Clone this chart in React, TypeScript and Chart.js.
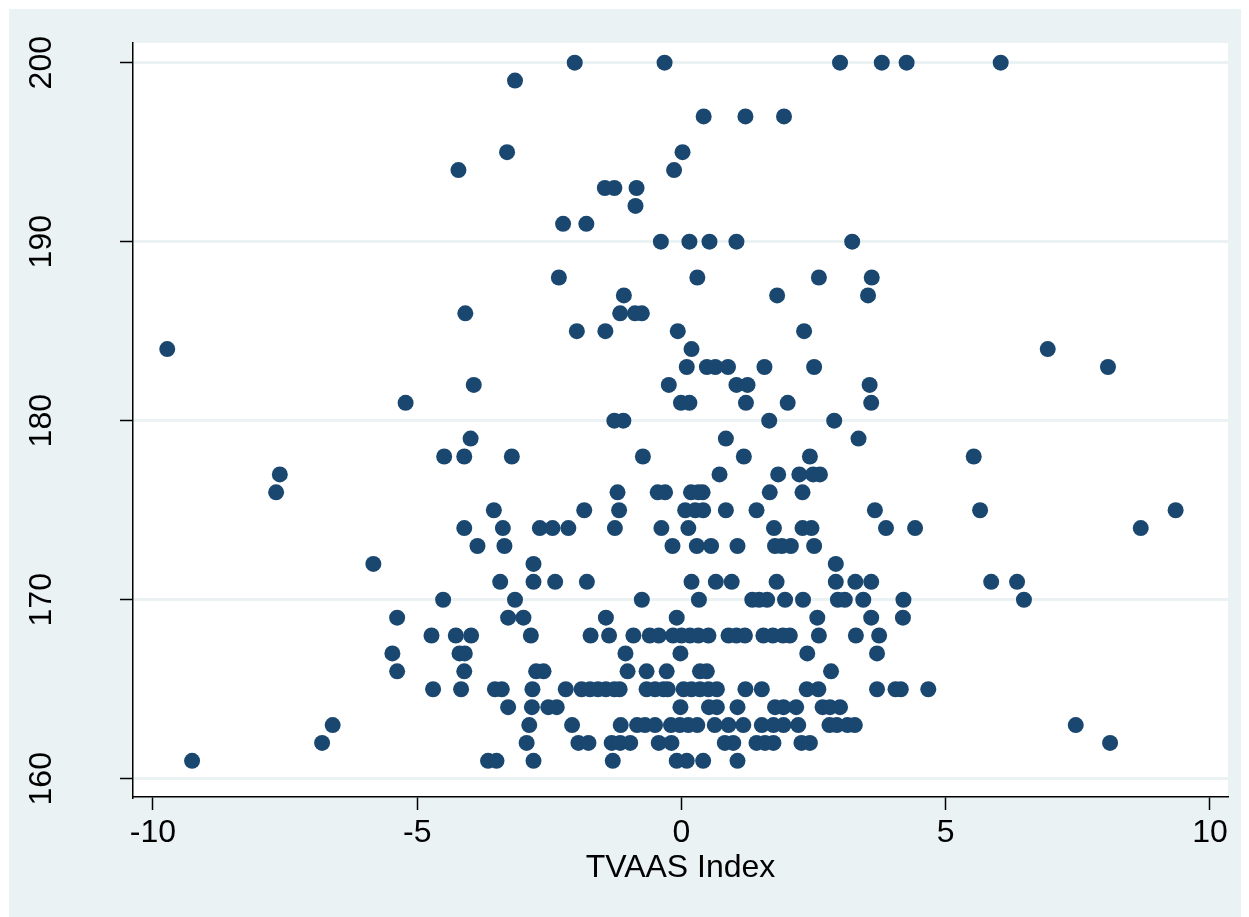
import React, { useEffect, useRef } from "react";
import { Chart, registerables } from "chart.js";

Chart.register(...registerables);

// ---- data: TVAAS index (x) grouped by score (y) ----
const tvaas200 = [-2.02, -0.32, 3.0, 3.79, 4.26, 6.04];
const tvaas199 = [-3.15];
const tvaas197 = [0.42, 1.21, 1.94];
const tvaas195 = [-3.3, 0.02];
const tvaas194 = [-4.22, -0.14];
const tvaas193 = [-1.45, -1.27, -0.85];
const tvaas192 = [-0.87];
const tvaas191 = [-2.24, -1.8];
const tvaas190 = [-0.39, 0.15, 0.53, 1.04, 3.23];
const tvaas188 = [-2.32, 0.3, 2.6, 3.6];
const tvaas187 = [-1.09, 1.81, 3.53];
const tvaas186 = [-4.09, -1.16, -0.88, -0.75];
const tvaas185 = [-1.98, -1.44, -0.07, 2.32];
const tvaas184 = [-9.73, 0.19, 6.93];
const tvaas183 = [0.1, 0.48, 0.64, 0.88, 1.57, 2.51, 8.07];
const tvaas182 = [-3.93, -0.24, 1.04, 1.25, 3.56];
const tvaas181 = [-5.22, -0.01, 0.15, 1.22, 2.01, 3.59];
const tvaas180 = [-1.27, -1.1, 1.66, 2.89];
const tvaas179 = [-3.99, 0.84, 3.35];
const tvaas178 = [-4.49, -4.11, -3.21, -0.73, 1.18, 2.43, 5.53];
const tvaas177 = [-7.6, 0.72, 1.83, 2.23, 2.49, 2.62];
const tvaas176 = [-7.67, -1.21, -0.45, -0.31, 0.18, 0.32, 0.4, 1.67, 2.29];
const tvaas175 = [-3.55, -1.84, -1.18, 0.07, 0.26, 0.41, 0.84, 1.42, 3.66, 5.65, 9.35];
const tvaas174 = [-4.11, -3.38, -2.68, -2.44, -2.14, -1.26, -0.38, 0.13, 1.75, 2.29, 2.46, 3.87, 4.42, 8.69];
const tvaas173 = [-3.86, -3.35, -0.17, 0.29, 0.56, 1.06, 1.77, 1.9, 2.07, 2.51];
const tvaas172 = [-5.83, -2.8, 2.92];
const tvaas171 = [-3.43, -2.8, -2.39, -1.79, 0.19, 0.65, 0.95, 1.8, 2.92, 3.29, 3.59, 5.86, 6.35];
const tvaas170 = [-4.51, -3.15, -0.75, 0.33, 1.34, 1.47, 1.62, 1.96, 2.3, 2.96, 3.09, 3.44, 4.2, 6.48];
const tvaas169 = [-5.38, -3.28, -2.99, -1.43, -0.09, 2.57, 3.59, 4.19];
const tvaas168 = [-4.73, -4.27, -3.98, -2.85, -1.72, -1.37, -0.91, -0.6, -0.43, -0.16, 0.0, 0.16, 0.32, 0.51, 0.89, 1.04, 1.2, 1.55, 1.73, 1.92, 2.05, 2.6, 3.3, 3.74];
const tvaas167 = [-5.47, -4.2, -4.1, -1.06, -0.02, 2.38, 3.7];
const tvaas166 = [-5.38, -4.11, -2.75, -2.61, -1.02, -0.66, -0.28, 0.35, 0.48, 2.83];
const tvaas165 = [-4.7, -4.17, -3.53, -3.4, -2.82, -2.19, -1.89, -1.73, -1.58, -1.43, -1.27, -1.17, -0.66, -0.5, -0.34, -0.26, 0.04, 0.19, 0.35, 0.51, 0.67, 1.21, 1.52, 2.37, 2.59, 3.7, 4.05, 4.15, 4.67];
const tvaas164 = [-3.28, -2.83, -2.52, -2.36, -0.02, 0.52, 0.67, 1.06, 1.77, 1.93, 2.17, 2.67, 2.81, 3.0];
const tvaas163 = [-6.6, -2.88, -2.07, -1.15, -0.84, -0.69, -0.5, -0.2, -0.03, 0.13, 0.3, 0.63, 0.89, 1.17, 1.52, 1.74, 1.93, 2.21, 2.8, 2.94, 3.14, 3.28, 7.46];
const tvaas162 = [-6.8, -2.93, -1.95, -1.76, -1.32, -1.16, -0.97, -0.43, -0.19, 0.82, 0.98, 1.42, 1.58, 1.74, 2.27, 2.43, 8.11];
const tvaas161 = [-9.26, -3.66, -3.5, -2.8, -1.3, -0.09, 0.1, 0.41, 1.06];

const scoreRows: [number, number[]][] = [
  [200, tvaas200], [199, tvaas199], [197, tvaas197], [195, tvaas195], [194, tvaas194],
  [193, tvaas193], [192, tvaas192], [191, tvaas191], [190, tvaas190], [188, tvaas188],
  [187, tvaas187], [186, tvaas186], [185, tvaas185], [184, tvaas184], [183, tvaas183],
  [182, tvaas182], [181, tvaas181], [180, tvaas180], [179, tvaas179], [178, tvaas178],
  [177, tvaas177], [176, tvaas176], [175, tvaas175], [174, tvaas174], [173, tvaas173],
  [172, tvaas172], [171, tvaas171], [170, tvaas170], [169, tvaas169], [168, tvaas168],
  [167, tvaas167], [166, tvaas166], [165, tvaas165], [164, tvaas164], [163, tvaas163],
  [162, tvaas162], [161, tvaas161],
];

const xTicks = [-10, -5, 0, 5, 10];
const yTicks = [160, 170, 180, 190, 200];
const xTitle = "TVAAS Index";

const FONT = '"Liberation Sans", Arial, Helvetica, sans-serif';
const FONT_SIZE = 32;
const BG = "#EAF2F3";
const MARKER = "#1A476F";

export default function App() {
  const ref = useRef<HTMLCanvasElement | null>(null);

  useEffect(() => {
    const canvas = ref.current;
    if (!canvas) return;
    const points: { x: number; y: number }[] = [];
    scoreRows.forEach(([score, xs]) => xs.forEach((x) => points.push({ x, y: score })));

    const bgPlugin = {
      id: "bgPlugin",
      beforeDraw(chart: any) {
        const { ctx, chartArea, width, height } = chart;
        ctx.save();
        ctx.fillStyle = BG;
        ctx.fillRect(0, 0, width, height);
        ctx.fillStyle = "#FFFFFF";
        ctx.fillRect(chartArea.left, chartArea.top, chartArea.right - chartArea.left, chartArea.bottom - chartArea.top);
        ctx.restore();
      },
      afterDraw(chart: any) {
        const { ctx } = chart;
        const ys = chart.scales.y;
        ctx.save();
        ctx.fillStyle = "#000";
        ctx.font = `${FONT_SIZE}px ${FONT}`;
        ctx.textAlign = "center";
        ctx.textBaseline = "middle";
        yTicks.forEach((v) => {
          const py = ys.getPixelForValue(v);
          ctx.save();
          ctx.translate(33.5, py);
          ctx.rotate(-Math.PI / 2);
          ctx.fillText(String(v), 0, 0);
          ctx.restore();
        });
        ctx.restore();
      },
    };

    const chart = new Chart(canvas, {
      type: "scatter",
      data: {
        datasets: [
          {
            data: points,
            backgroundColor: MARKER,
            borderWidth: 0,
            pointRadius: 8,
            pointHoverRadius: 8,
          },
        ],
      },
      options: {
        animation: false,
        responsive: false,
        devicePixelRatio: 1,
        layout: { padding: { top: 34, right: 13, left: 0, bottom: 0 } },
        plugins: { legend: { display: false }, tooltip: { enabled: false } },
        scales: {
          x: {
            type: "linear",
            min: -10.378,
            max: 10.341,
            afterBuildTicks: (axis: any) => {
              axis.ticks = xTicks.map((v) => ({ value: v }));
            },
            afterFit: (axis: any) => {
              axis.height = 120;
            },
            grid: {
              drawOnChartArea: false,
              drawTicks: true,
              tickLength: 13,
              tickColor: "#000",
              tickWidth: 1.5,
            },
            border: { display: true, color: "#000", width: 1.5 },
            ticks: {
              color: "#000",
              font: { family: FONT, size: FONT_SIZE },
              padding: 4,
              maxRotation: 0,
              autoSkip: false,
              callback: (v: any) => String(v),
            },
            title: {
              display: true,
              text: xTitle,
              color: "#000",
              font: { family: FONT, size: FONT_SIZE },
              padding: { top: 0, bottom: 30 },
            },
          },
          y: {
            type: "linear",
            min: 158.98,
            max: 201.1,
            afterBuildTicks: (axis: any) => {
              axis.ticks = yTicks.map((v) => ({ value: v }));
            },
            afterFit: (axis: any) => {
              axis.width = 124;
            },
            grid: {
              color: BG,
              lineWidth: 3,
              drawTicks: true,
              tickLength: 13,
              tickColor: "#000",
              tickWidth: 1.5,
            },
            border: { display: true, color: "#000", width: 1.5 },
            ticks: { display: false },
          },
        },
      },
      plugins: [bgPlugin],
    } as any);

    return () => chart.destroy();
  }, []);

  return (
    <div style={{ position: "absolute", left: 9, top: 9, width: 1232, height: 908 }}>
      <canvas ref={ref} width={1232} height={908} style={{ display: "block", width: 1232, height: 908 }} />
    </div>
  );
}
